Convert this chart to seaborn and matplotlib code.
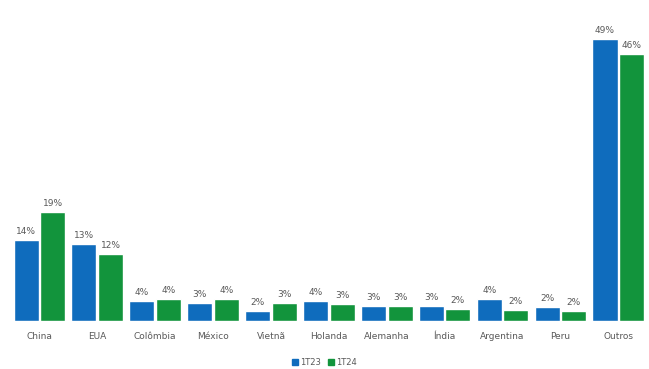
import matplotlib
matplotlib.use("Agg")
import matplotlib.pyplot as plt
import seaborn as sns
import pandas as pd
from matplotlib.patches import Patch

categories = ["China", "EUA", "Colômbia", "México", "Vietnã", "Holanda",
              "Alemanha", "Índia", "Argentina", "Peru", "Outros"]
series_names = ["1T23", "1T24"]
v_1t23 = [14.0, 13.4, 3.5, 3.1, 1.7, 3.5, 2.6, 2.6, 3.8, 2.4, 49.0]
v_1t24 = [19.0, 11.7, 3.8, 3.8, 3.1, 2.9, 2.6, 2.1, 1.9, 1.7, 46.4]
colors = ["#0f6cbd", "#12943c"]

rows = []
for c, a, b in zip(categories, v_1t23, v_1t24):
    rows.append({"pais": c, "serie": series_names[0], "valor": a})
    rows.append({"pais": c, "serie": series_names[1], "valor": b})
df = pd.DataFrame(rows)

sns.set_theme(style="white")
fig = plt.figure(figsize=(6.49, 3.69), dpi=100)
ax = fig.add_axes([0.0, 0.13, 1.0, 0.85])
sns.barplot(data=df, x="pais", y="valor", hue="serie", palette=colors,
            width=0.92, gap=0.06, ax=ax, legend=False, saturation=1)

for cont in ax.containers:
    labels = [f"{round(b.get_height()):.0f}%" for b in cont]
    ax.bar_label(cont, labels=labels, padding=3, fontsize=6.5, color="#595959")

ax.set_xlim(-0.68, 10.53)
ax.set_ylim(0, 54.5)
ax.set_xlabel("")
ax.set_ylabel("")
ax.set_yticks([])
ax.tick_params(axis="x", length=0, labelsize=6.5, labelcolor="#595959", pad=8)
for s in ax.spines.values():
    s.set_visible(False)

handles = [Patch(color=colors[0], label=series_names[0]),
           Patch(color=colors[1], label=series_names[1])]
fig.legend(handles=handles, loc="lower center", bbox_to_anchor=(0.5, -0.015),
           ncol=2, frameon=False, fontsize=6, handlelength=0.7, handleheight=0.7,
           handletextpad=0.3, columnspacing=0.8, labelcolor="#595959")

fig.savefig("out.png", dpi=100)
